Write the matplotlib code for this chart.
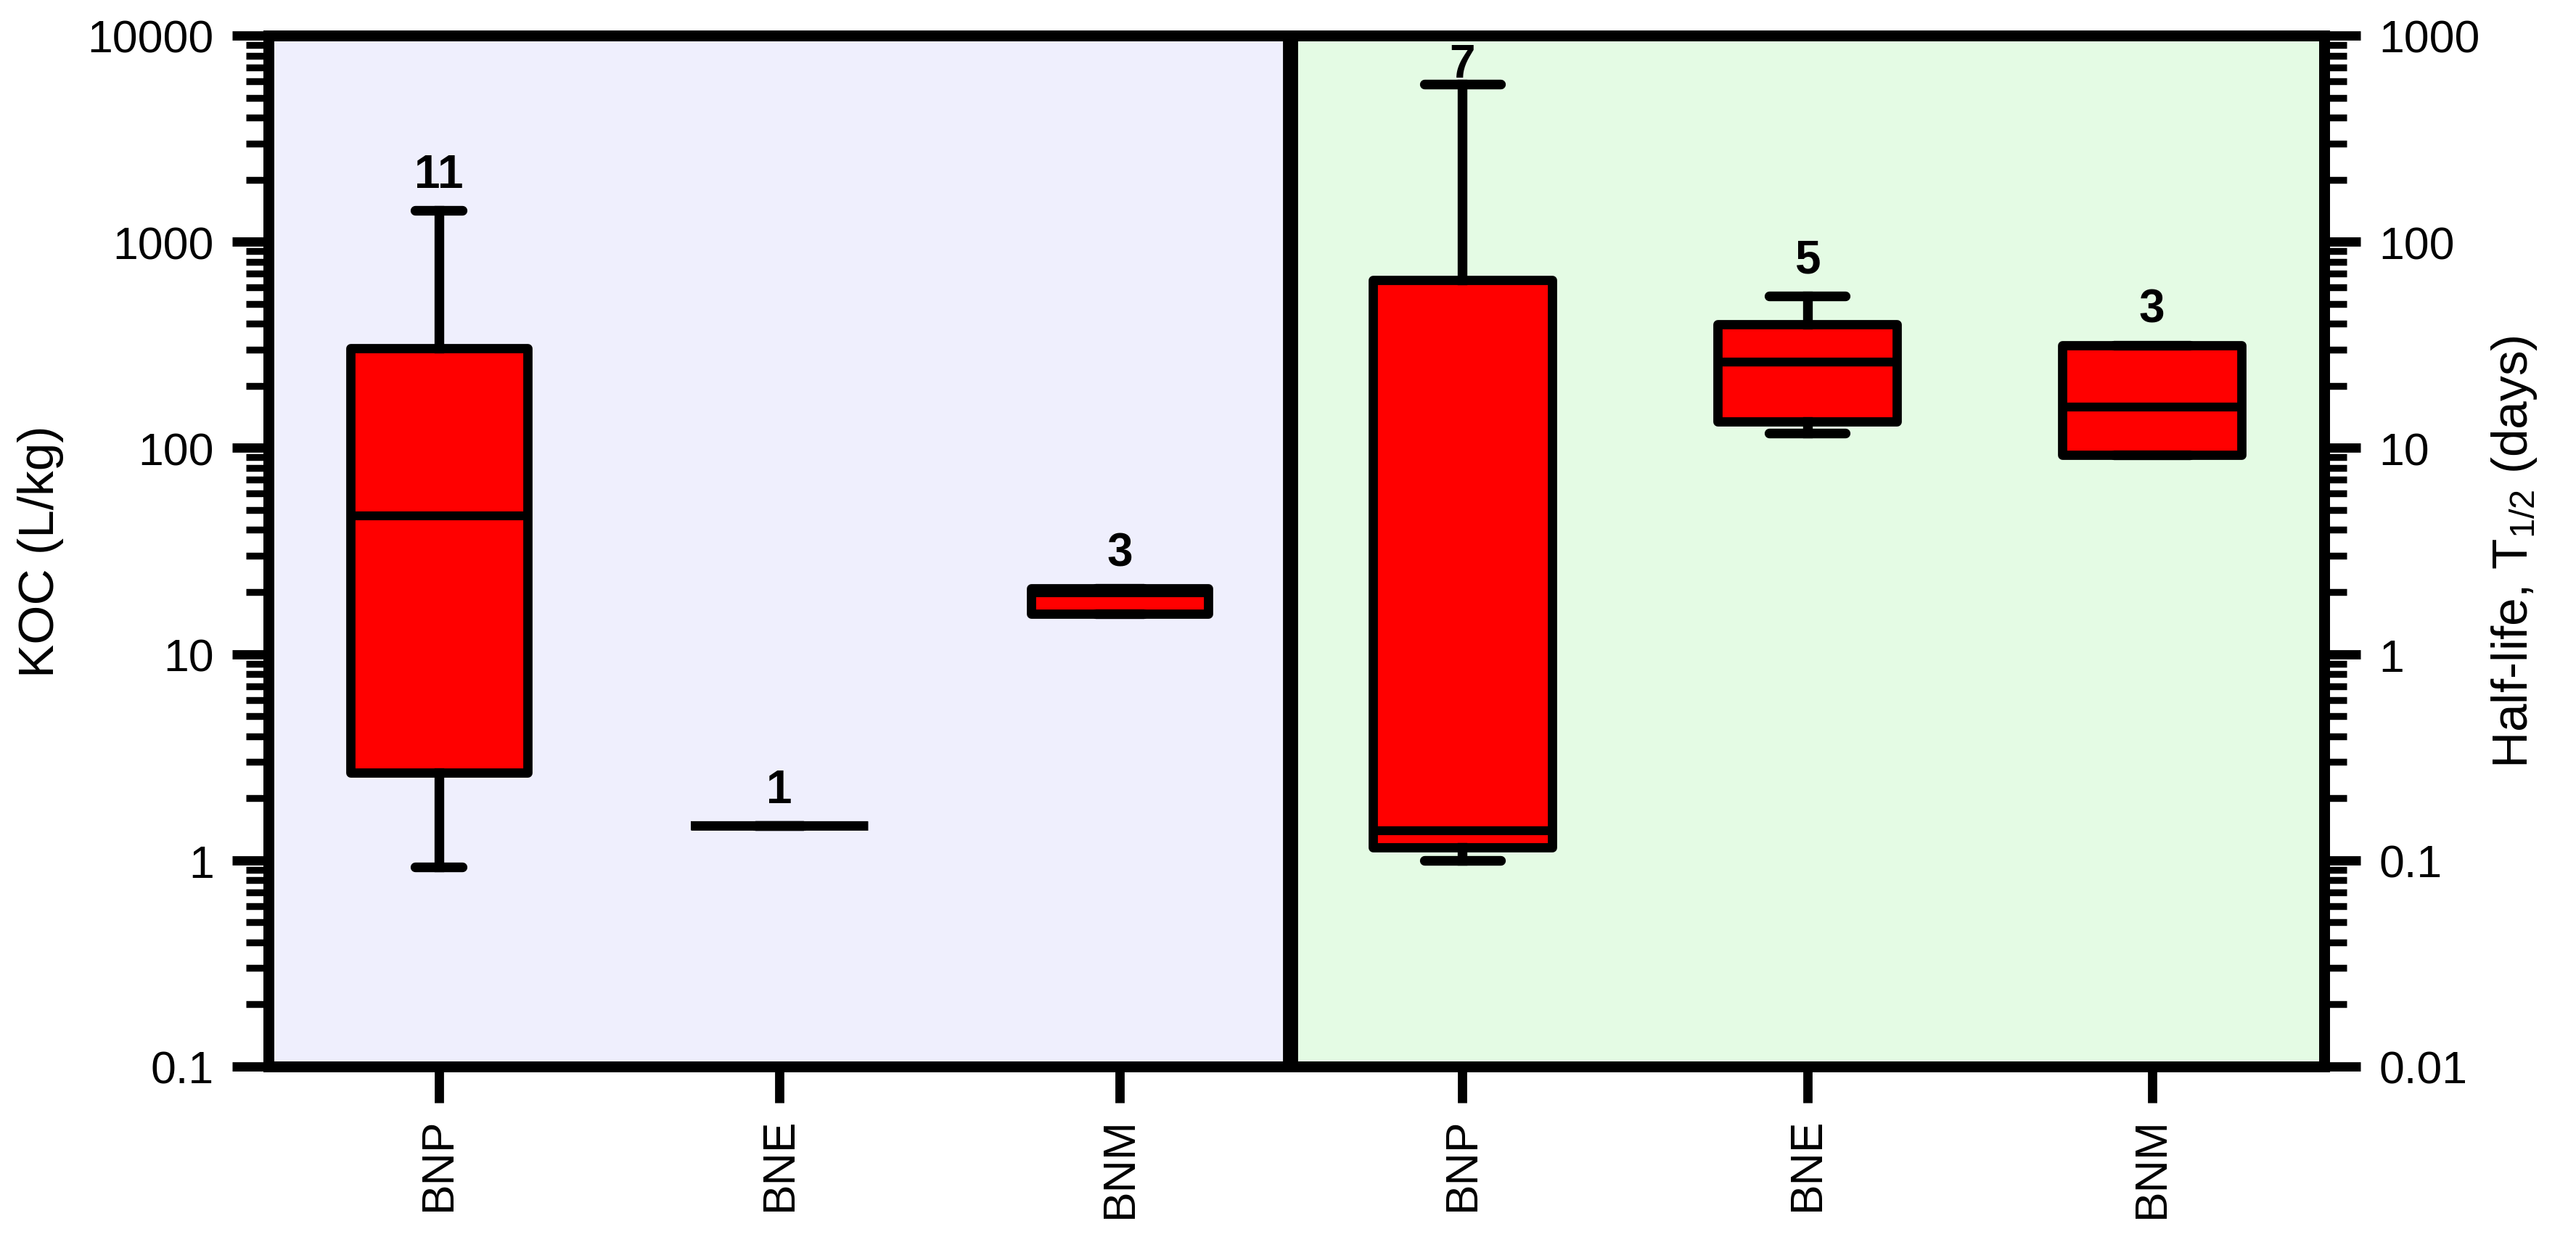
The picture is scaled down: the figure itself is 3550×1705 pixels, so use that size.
"""Koc and half-life box plots for the three compounds."""
import matplotlib

matplotlib.use("Agg")
import matplotlib.pyplot as plt
import numpy as np
from matplotlib.ticker import FixedLocator, FuncFormatter, LogLocator, NullFormatter
from matplotlib.transforms import blended_transform_factory

plt.rcParams.update({
    "font.family": ["Liberation Sans", "DejaVu Sans"],
    "mathtext.fontset": "custom",
    "mathtext.rm": "Liberation Sans",
    "mathtext.it": "Liberation Sans:italic",
})

CATEGORIES = ["BNP", "BNE", "BNM"]

# Koc (L/kg) box statistics
KOC_WHISLO = [0.93, 1.47, 15.7]
KOC_Q1 = [2.66, 1.47, 15.7]
KOC_MED = [47.0, 1.47, 19.8]
KOC_Q3 = [304.0, 1.47, 20.8]
KOC_WHISHI = [1420.0, 1.47, 20.8]
KOC_N = [11, 1, 3]

# Half-life (days) box statistics
HL_WHISLO = [0.10, 11.8, 9.25]
HL_Q1 = [0.115, 13.4, 9.25]
HL_MED = [0.139, 26.1, 15.8]
HL_Q3 = [65.0, 39.8, 31.5]
HL_WHISHI = [581.0, 54.6, 31.5]
HL_N = [7, 5, 3]

KOC_TICKS = [0.1, 1, 10, 100, 1000, 10000]
HL_TICKS = [0.01, 0.1, 1, 10, 100, 1000]

LEFT_BG = "#EFEFFD"
RIGHT_BG = "#E4FBE4"
BOX_RED = "#FF0000"

AX_BOTTOM = 0.1378
AX_HEIGHT = 0.8329
AX_PIX = AX_HEIGHT * 1706


def make_stats(lo, q1, med, q3, hi):
    return [
        {"whislo": a, "q1": b, "med": c, "q3": d, "whishi": e, "fliers": []}
        for a, b, c, d, e in zip(lo, q1, med, q3, hi)
    ]


def draw_panel(ax, stats, counts, ticks, bg, capwidth):
    ax.set_facecolor(bg)
    ax.set_yscale("log")
    positions = np.arange(1, len(CATEGORIES) + 1)
    ax.bxp(
        stats,
        positions=positions,
        widths=0.52,
        capwidths=capwidth,
        patch_artist=True,
        showfliers=False,
        boxprops=dict(facecolor=BOX_RED, edgecolor="black", linewidth=4.6, joinstyle="round"),
        medianprops=dict(color="black", linewidth=4.4, solid_capstyle="butt"),
        whiskerprops=dict(color="black", linewidth=4.8),
        capprops=dict(color="black", linewidth=4.8, solid_capstyle="round"),
    )
    ax.set_xlim(0.5, len(CATEGORIES) + 0.5)
    ax.set_ylim(ticks[0], ticks[-1])
    ax.set_xticks(positions)
    ax.set_xticklabels(CATEGORIES, rotation=90, fontsize=22.5)

    ax.yaxis.set_major_locator(FixedLocator(ticks))
    ax.yaxis.set_major_formatter(FuncFormatter(lambda v, _: f"{v:g}"))
    ax.yaxis.set_minor_locator(LogLocator(base=10, subs=np.arange(2, 10), numticks=20))
    ax.yaxis.set_minor_formatter(NullFormatter())

    # n labels sit above the upper whisker, pulled down if they would hit the frame
    lo, hi = np.log10(ticks[0]), np.log10(ticks[-1])
    trans = blended_transform_factory(ax.transData, ax.transAxes)
    for x, s, n in zip(positions, stats, counts):
        frac = (np.log10(s["whishi"]) - lo) / (hi - lo)
        y = min(frac + 32 / AX_PIX, 1 - 57 / AX_PIX)
        ax.text(x, y, str(n), transform=trans, ha="center", va="baseline",
                fontsize=23, fontweight="bold", color="black")

    ax.tick_params(axis="x", which="both", direction="out", length=18, width=4.6,
                   pad=7, top=False, labelsize=22.5)
    ax.tick_params(axis="y", which="major", direction="out", length=18, width=4.6,
                   pad=9, labelsize=22.5)
    ax.tick_params(axis="y", which="minor", direction="out", length=11, width=3.4)

    for spine in ax.spines.values():
        spine.set_linewidth(5.4)
        spine.set_capstyle("projecting")


fig = plt.figure(figsize=(17.75, 8.53), dpi=200, facecolor="white")
ax1 = fig.add_axes([0.1042, AX_BOTTOM, 0.3966, AX_HEIGHT])
ax2 = fig.add_axes([0.5008, AX_BOTTOM, 0.4015, AX_HEIGHT])

koc_stats = make_stats(KOC_WHISLO, KOC_Q1, KOC_MED, KOC_Q3, KOC_WHISHI)
hl_stats = make_stats(HL_WHISLO, HL_Q1, HL_MED, HL_Q3, HL_WHISHI)

draw_panel(ax1, koc_stats, KOC_N, KOC_TICKS, LEFT_BG, 0.14)
draw_panel(ax2, hl_stats, HL_N, HL_TICKS, RIGHT_BG, 0.22)

ax1.tick_params(axis="y", which="both", right=False)
ax1.spines["right"].set_visible(False)
ax1.set_ylabel("KOC (L/kg)", fontsize=25)
ax1.yaxis.set_label_coords(-0.200, 0.5)

ax2.yaxis.tick_right()
ax2.yaxis.set_label_position("right")
ax2.tick_params(axis="y", which="both", left=False)
ax2.spines["left"].set_linewidth(7.5)
ax2.spines["left"].set_capstyle("butt")
ax2.set_ylabel("Half-life, T$_{\\mathrm{1/2}}$ (days)", fontsize=25)
ax2.yaxis.set_label_coords(1.160, 0.5)

fig.savefig("out.png", dpi=200, facecolor="white")
